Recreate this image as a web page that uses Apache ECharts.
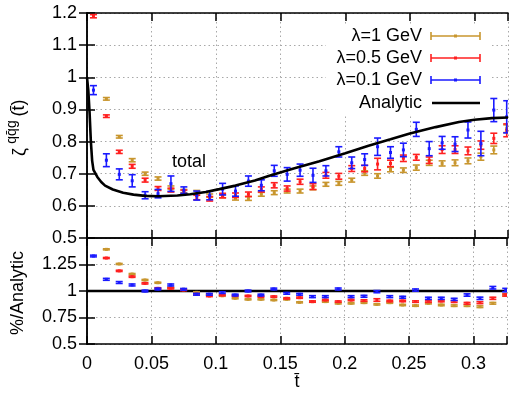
<!DOCTYPE html>
<html>
<head>
<meta charset="utf-8">
<script src="https://cdn.jsdelivr.net/npm/echarts@6/dist/echarts.min.js"></script>
<style>html,body{margin:0;padding:0;background:#fff}#c{width:510px;height:395px}</style>
</head>
<body>
<div id="c"></div>
<script>
// ---------- data ----------
const tbar = [0.005,0.015,0.025,0.035,0.045,0.055,0.065,0.075,0.085,0.095,0.105,0.115,0.125,0.135,0.145,0.155,0.165,0.175,0.185,0.195,0.205,0.215,0.225,0.235,0.245,0.255,0.265,0.275,0.285,0.295,0.305,0.315,0.325];

const lam1   = [null,0.933,0.815,0.742,0.700,0.685,0.657,0.646,0.643,0.632,0.630,0.623,0.623,0.636,0.641,0.646,0.646,0.656,0.667,0.670,0.680,0.702,0.693,0.713,0.711,0.719,0.734,0.732,0.734,0.740,0.753,0.774,0.840];
const lam1E  = [0,0.004,0.004,0.005,0.005,0.005,0.005,0.005,0.005,0.005,0.005,0.005,0.006,0.006,0.006,0.006,0.006,0.006,0.006,0.006,0.006,0.007,0.007,0.007,0.007,0.008,0.008,0.008,0.009,0.009,0.011,0.012,0.012];
const lam05  = [1.190,0.879,0.768,0.723,0.680,0.654,0.649,0.643,0.626,0.622,0.632,0.633,0.636,0.651,0.664,0.654,0.675,0.660,0.695,0.692,0.716,0.716,0.730,0.732,0.748,0.751,0.742,0.775,0.775,0.771,0.789,0.810,0.835];
const lam05E = [0.005,0.004,0.005,0.006,0.006,0.006,0.006,0.006,0.007,0.007,0.007,0.007,0.007,0.008,0.008,0.008,0.008,0.009,0.009,0.009,0.009,0.010,0.018,0.010,0.010,0.009,0.010,0.012,0.012,0.012,0.013,0.016,0.020];
const lam01  = [0.960,0.742,0.698,0.678,0.633,0.638,0.669,0.649,0.632,0.632,0.652,0.646,0.677,0.664,0.709,0.698,0.711,0.695,0.709,0.768,0.734,0.744,0.784,0.766,0.774,0.838,0.778,0.796,0.792,0.836,0.794,0.898,0.877];
const lam01E = [0.014,0.020,0.017,0.019,0.011,0.013,0.024,0.010,0.014,0.013,0.018,0.016,0.016,0.017,0.017,0.021,0.019,0.022,0.016,0.016,0.018,0.018,0.027,0.018,0.021,0.022,0.022,0.020,0.023,0.025,0.038,0.036,0.050];

const anaT = [0,0.001,0.002,0.003,0.004,0.005,0.008,0.011,0.014,0.020,0.028,0.036,0.045,0.055,0.070,0.080,0.092,0.1025,0.115,0.130,0.1412,0.160,0.180,0.200,0.218,0.235,0.250,0.270,0.288,0.300,0.3135,0.326];
const anaV = [1.000,0.960,0.890,0.800,0.740,0.712,0.690,0.674,0.663,0.651,0.641,0.635,0.631,0.630,0.632,0.636,0.643,0.652,0.663,0.679,0.694,0.716,0.739,0.764,0.787,0.807,0.825,0.845,0.861,0.868,0.873,0.875];

const r1   = [null,1.393,1.255,1.160,1.104,1.078,1.031,1.016,0.987,0.969,0.955,0.931,0.921,0.921,0.915,0.921,0.893,0.900,0.900,0.884,0.884,0.890,0.874,0.890,0.868,0.862,0.884,0.868,0.862,0.862,0.852,0.884,0.962];
const r1E  = [0,0.005,0.005,0.005,0.005,0.005,0.005,0.005,0.005,0.005,0.005,0.005,0.005,0.005,0.005,0.005,0.005,0.006,0.006,0.006,0.006,0.006,0.006,0.006,0.006,0.006,0.006,0.007,0.007,0.007,0.008,0.008,0.008];
const r05  = [null,1.311,1.190,1.135,1.072,1.025,1.025,1.009,0.969,0.953,0.962,0.956,0.953,0.947,0.947,0.931,0.937,0.900,0.915,0.900,0.915,0.910,0.915,0.906,0.906,0.900,0.900,0.906,0.900,0.884,0.890,0.931,0.962];
const r05E = [0,0.005,0.006,0.006,0.006,0.006,0.006,0.006,0.006,0.006,0.006,0.006,0.006,0.006,0.006,0.006,0.006,0.006,0.006,0.006,0.006,0.007,0.012,0.007,0.007,0.007,0.007,0.008,0.008,0.008,0.009,0.010,0.010];
const r01  = [1.330,1.110,1.080,1.057,1.000,1.019,1.057,1.016,0.969,0.969,0.985,0.962,1.000,0.962,1.019,0.978,0.969,0.947,0.947,1.019,0.947,0.950,0.994,0.947,0.941,1.009,0.931,0.931,0.921,0.962,0.931,1.031,1.009];
const r01E = [0.008,0.009,0.009,0.009,0.008,0.008,0.009,0.008,0.008,0.008,0.008,0.008,0.008,0.008,0.008,0.008,0.008,0.009,0.009,0.009,0.009,0.009,0.010,0.009,0.009,0.010,0.010,0.010,0.010,0.011,0.011,0.012,0.016];

const ratioLineT = [0, 0.326];
const ratioLineV = [1, 1];

const names = ['λ=1 GeV','λ=0.5 GeV','λ=0.1 GeV','Analytic'];
const colors = ['#c8962e','#ff2020','#1a1aff','#000000'];
const xTicks = [0,0.05,0.1,0.15,0.2,0.25,0.3];

// ---------- helpers ----------
function triples(xs, ys, es){
  const out=[];
  for(let i=0;i<xs.length;i++){ if(ys[i]!=null) out.push([xs[i],ys[i],es[i]]); }
  return out;
}
function errRender(color){
  return function(params, api){
    const x=api.value(0), y=api.value(1), e=api.value(2);
    const p=api.coord([x,y]), hi=api.coord([x,y+e]), lo=api.coord([x,y-e]);
    const cw=3.5, st={stroke:color,lineWidth:1.6};
    return {type:'group',children:[
      {type:'line',shape:{x1:p[0],y1:hi[1],x2:p[0],y2:lo[1]},style:st},
      {type:'line',shape:{x1:p[0]-cw,y1:hi[1],x2:p[0]+cw,y2:hi[1]},style:st},
      {type:'line',shape:{x1:p[0]-cw,y1:lo[1],x2:p[0]+cw,y2:lo[1]},style:st},
      {type:'rect',shape:{x:p[0]-1.5,y:p[1]-1.5,width:3,height:3},style:{fill:color}}
    ]};
  };
}
const FONT='"Liberation Sans", Arial, sans-serif';
const XMAX=0.326;
const isTick=(v,step)=>Math.abs(v/step-Math.round(v/step))<1e-6;
const axLine={show:true,lineStyle:{color:'#000',width:1.5}};
const split={show:true,lineStyle:{color:'#a8a8a8',width:1,type:[1.5,3]}};
function xAx(grid,pos,labels,grid_split){
  return {type:'value',gridIndex:grid,position:pos,min:0,max:XMAX,interval:0.05,
    axisLine:axLine,axisTick:{show:true,inside:true,length:8,lineStyle:{color:'#000',width:1.5}},
    splitLine:grid_split?split:{show:false},
    axisLabel:{show:labels,color:'#000',fontSize:18,fontFamily:FONT,margin:11,
      formatter:v=>xTicks.some(t=>Math.abs(t-v)<1e-9)?String(v):''}};
}
function yAx(grid,pos,min,max,step,labels,hideTop){
  return {type:'value',gridIndex:grid,position:pos,min:min,max:max,interval:step,
    axisLine:axLine,axisTick:{show:true,inside:true,length:8,lineStyle:{color:'#000',width:1.5}},
    splitLine:pos==='left'?split:{show:false},
    axisLabel:{show:labels,color:'#000',fontSize:18,fontFamily:FONT,margin:10,
      formatter:v=>(hideTop&&Math.abs(v-max)<1e-9)||!isTick(v-min,step)?'':String(+v.toFixed(2))}};
}

const chart=echarts.init(document.getElementById('c'),null,{renderer:'canvas'});
const legY=[36,58,80,103];
const legendGraphics=[{type:'rect',z:1,shape:{x:326,y:24,width:164,height:90},style:{fill:'#fff'}}];
names.forEach((n,i)=>{
  legendGraphics.push({type:'text',z:5,x:422,y:legY[i],style:{text:n,fill:'#000',font:'18px '+FONT,align:'right',verticalAlign:'middle'}});
  if(i<3){
    const st={stroke:colors[i],lineWidth:1.6};
    legendGraphics.push({type:'line',z:5,shape:{x1:431,y1:legY[i],x2:480,y2:legY[i]},style:st});
    legendGraphics.push({type:'line',z:5,shape:{x1:431,y1:legY[i]-4,x2:431,y2:legY[i]+4},style:st});
    legendGraphics.push({type:'line',z:5,shape:{x1:480,y1:legY[i]-4,x2:480,y2:legY[i]+4},style:st});
    legendGraphics.push({type:'rect',z:5,shape:{x:454,y:legY[i]-1.5,width:3,height:3},style:{fill:colors[i]}});
  } else {
    legendGraphics.push({type:'line',z:5,shape:{x1:432,y1:legY[i],x2:480,y2:legY[i]},style:{stroke:'#000',lineWidth:2.6}});
  }
});
const rot=Math.PI/2;
const yName=[
  {type:'text',z:5,x:20,y:152,rotation:rot,style:{text:'ζ',fill:'#000',font:'18px '+FONT,align:'center',verticalAlign:'middle'}},
  {type:'text',z:5,x:12,y:132,rotation:rot,style:{text:'qq\u0304g',fill:'#000',font:'14px '+FONT,align:'center',verticalAlign:'middle'}},
  {type:'text',z:5,x:19,y:108,rotation:rot,style:{text:'(t\u0304)',fill:'#000',font:'18px '+FONT,align:'center',verticalAlign:'middle'}}
];

const option={
  animation:false,
  backgroundColor:'#fff',
  textStyle:{fontFamily:FONT},
  grid:[
    {left:87,top:13,width:421,height:225},
    {left:87,top:238,width:421,height:106}
  ],
  xAxis:[xAx(0,'bottom',false,true),xAx(0,'top',false,false),xAx(1,'bottom',true,true),xAx(1,'top',false,false)],
  yAxis:[yAx(0,'left',0.5,1.2,0.1,true,false),yAx(0,'right',0.5,1.2,0.1,false,false),
         yAx(1,'left',0.5,1.5,0.25,true,true),yAx(1,'right',0.5,1.5,0.25,false,false)],
  graphic:legendGraphics.concat(yName).concat([
    {type:'text',z:5,x:172,y:162,style:{text:'total',fill:'#000',font:'18px '+FONT,verticalAlign:'middle'}},
    {type:'text',z:5,x:297,y:382,style:{text:'t\u0304',fill:'#000',font:'18px '+FONT,align:'center',verticalAlign:'middle'}},
    {type:'text',z:5,x:18,y:293,rotation:rot,style:{text:'%/Analytic',fill:'#000',font:'18px '+FONT,align:'center',verticalAlign:'middle'}}
  ]),
  series:[
    {type:'custom',name:names[0],xAxisIndex:0,yAxisIndex:0,clip:true,z:3,renderItem:errRender(colors[0]),data:triples(tbar,lam1,lam1E)},
    {type:'custom',name:names[1],xAxisIndex:0,yAxisIndex:0,clip:true,z:3,renderItem:errRender(colors[1]),data:triples(tbar,lam05,lam05E)},
    {type:'custom',name:names[2],xAxisIndex:0,yAxisIndex:0,clip:true,z:3,renderItem:errRender(colors[2]),data:triples(tbar,lam01,lam01E)},
    {type:'line',name:names[3],xAxisIndex:0,yAxisIndex:0,clip:true,z:4,symbol:'none',smooth:false,
      lineStyle:{color:'#000',width:2.6},data:anaT.map((t,i)=>[t,anaV[i]])},
    {type:'line',xAxisIndex:2,yAxisIndex:2,clip:true,z:2,symbol:'none',
      lineStyle:{color:'#000',width:2.6},data:ratioLineT.map((t,i)=>[t,ratioLineV[i]])},
    {type:'custom',xAxisIndex:2,yAxisIndex:2,clip:true,z:3,renderItem:errRender(colors[0]),data:triples(tbar,r1,r1E)},
    {type:'custom',xAxisIndex:2,yAxisIndex:2,clip:true,z:3,renderItem:errRender(colors[1]),data:triples(tbar,r05,r05E)},
    {type:'custom',xAxisIndex:2,yAxisIndex:2,clip:true,z:3,renderItem:errRender(colors[2]),data:triples(tbar,r01,r01E)}
  ]
};
chart.setOption(option);
</script>
</body>
</html>
